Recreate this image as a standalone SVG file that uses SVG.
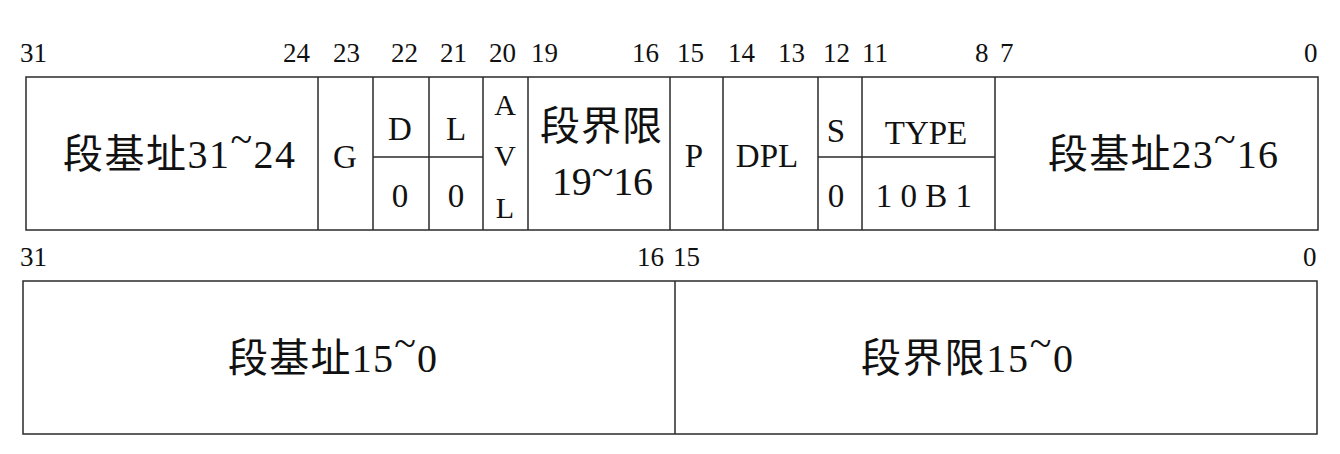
<svg xmlns="http://www.w3.org/2000/svg" width="1340" height="454" viewBox="0 0 1340 454">
<style>
text{font-family:"Liberation Serif","Times New Roman","DejaVu Serif","Noto Sans CJK SC",serif;fill:#111}
.box{fill:#fff;stroke:#2a2a2a;stroke-width:1.5}
.ln{stroke:#2a2a2a;stroke-width:1.5;fill:none}
.num{font-size:27px}
.big{font-size:40px}
.mid{font-size:33px;text-anchor:middle}
.sm{font-size:30px;text-anchor:middle}
</style>
<rect width="1340" height="454" fill="#fff"/>
<g id="bit-labels-top">
<text class="num" x="20" y="62">31</text>
<text class="num" x="283" y="62">24</text>
<text class="num" x="333" y="62">23</text>
<text class="num" x="391" y="62">22</text>
<text class="num" x="440" y="62">21</text>
<text class="num" x="489" y="62">20</text>
<text class="num" x="531" y="62">19</text>
<text class="num" x="632" y="62">16</text>
<text class="num" x="677" y="62">15</text>
<text class="num" x="728" y="62">14</text>
<text class="num" x="778" y="62">13</text>
<text class="num" x="823" y="62">12</text>
<text class="num" x="862" y="62">11</text>
<text class="num" x="975" y="62">8</text>
<text class="num" x="1000" y="62">7</text>
<text class="num" x="1304" y="62">0</text>
</g>
<g id="descriptor-high">
<rect class="box" x="26" y="77" width="1292" height="153"/>
</g>
<g id="base-31-24">
<text class="big" x="63" y="168" textLength="232">段基址31<tspan dy="-15">~</tspan><tspan dy="15">24</tspan></text>
</g>
<g id="cell-G">
<line class="ln" x1="318" y1="77" x2="318" y2="230"/>
<text class="mid" x="345" y="168">G</text>
</g>
<g id="cell-D">
<line class="ln" x1="373" y1="77" x2="373" y2="230"/>
<line class="ln" x1="373" y1="157" x2="429" y2="157"/>
<text class="mid" x="400" y="140">D</text>
<text class="mid" x="400" y="207">0</text>
</g>
<g id="cell-L">
<line class="ln" x1="429" y1="77" x2="429" y2="230"/>
<line class="ln" x1="429" y1="157" x2="483" y2="157"/>
<text class="mid" x="456" y="140">L</text>
<text class="mid" x="456" y="207">0</text>
</g>
<g id="cell-AVL">
<line class="ln" x1="483" y1="77" x2="483" y2="230"/>
<text class="sm" x="505" y="115">A</text>
<text class="sm" x="505" y="166">V</text>
<text class="sm" x="505" y="218">L</text>
</g>
<g id="limit-19-16">
<line class="ln" x1="528" y1="77" x2="528" y2="230"/>
<text class="big" x="540" y="140" textLength="122">段界限</text>
<text class="big" x="552" y="195" textLength="101">19<tspan dy="-9">~</tspan><tspan dy="9">16</tspan></text>
</g>
<g id="cell-P">
<line class="ln" x1="670" y1="77" x2="670" y2="230"/>
<text class="mid" x="694" y="167">P</text>
</g>
<g id="cell-DPL">
<line class="ln" x1="723" y1="77" x2="723" y2="230"/>
<text class="mid" x="767" y="167">DPL</text>
</g>
<g id="cell-S">
<line class="ln" x1="818" y1="77" x2="818" y2="230"/>
<line class="ln" x1="818" y1="157" x2="862" y2="157"/>
<text class="mid" x="836" y="142">S</text>
<text class="mid" x="836" y="207">0</text>
</g>
<g id="cell-TYPE">
<line class="ln" x1="862" y1="77" x2="862" y2="230"/>
<line class="ln" x1="862" y1="157" x2="995" y2="157"/>
<text class="mid" x="926" y="144">TYPE</text>
<text class="mid" x="924" y="207">1 0 B 1</text>
</g>
<g id="base-23-16">
<line class="ln" x1="995" y1="77" x2="995" y2="230"/>
<text class="big" x="1048" y="168" textLength="230">段基址23<tspan dy="-15">~</tspan><tspan dy="15">16</tspan></text>
</g>
<g id="bit-labels-bottom">
<text class="num" x="20" y="266">31</text>
<text class="num" x="637" y="266">16</text>
<text class="num" x="673" y="266">15</text>
<text class="num" x="1303" y="266">0</text>
</g>
<g id="descriptor-low">
<rect class="box" x="23" y="281" width="1294" height="153"/>
</g>
<g id="base-15-0">
<text class="big" x="228" y="372" textLength="209">段基址15<tspan dy="-15">~</tspan><tspan dy="15">0</tspan></text>
</g>
<g id="limit-15-0">
<line class="ln" x1="675" y1="281" x2="675" y2="434"/>
<text class="big" x="861" y="372" textLength="212">段界限15<tspan dy="-15">~</tspan><tspan dy="15">0</tspan></text>
</g>
<g id="connectors"></g>
</svg>
